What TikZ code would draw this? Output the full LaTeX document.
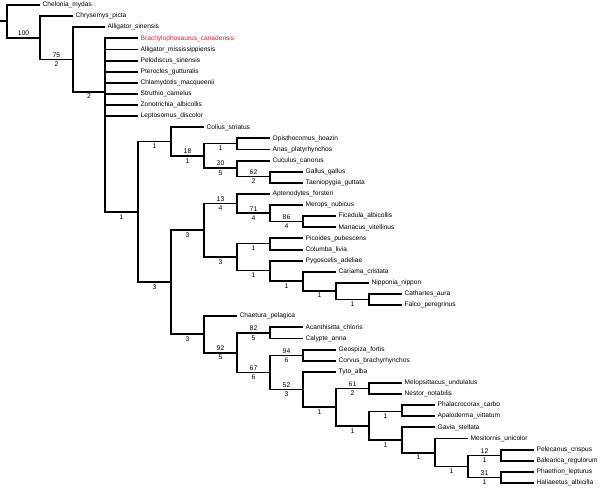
\documentclass[tikz,border=0pt]{standalone}
\usepackage{fontspec}
\setmainfont{Liberation Sans}
\begin{document}
\begin{tikzpicture}[x=1pt,y=-1pt,
  br/.style={line width=1.9pt,black},
  lab/.style={font=\fontsize{6.8}{8}\selectfont,inner sep=0.5pt},
  leaf/.style={font=\fontsize{6.6}{8}\selectfont,anchor=west,inner sep=2.5pt}]
\useasboundingbox (0,0) rectangle (600,489);
\newcommand\br[4]{\draw[br] (#1) |- (#2) node[pos=.75,above=0.5pt,lab]{#3} node[pos=.75,below=1pt,lab]{#4};}
\newcommand\lf[5][black]{\node[leaf,text=#1] (#2) at (#3,{5+11.116*#4}) {#5};}
\newcommand\lb[2]{\draw[br] (#1) |- (#2.west);}
\definecolor{myred}{RGB}{225,30,40}
% internal nodes
\coordinate (stub) at (0,21.4);
\coordinate (root) at (7,21.4);
\coordinate (A) at (40,37.75);
\coordinate (B) at (73,59.5);
\coordinate (C) at (105,91.6);
\coordinate (D) at (138,212);
\coordinate (E) at (171,141.5);
\coordinate (F) at (204,156);
\coordinate (G) at (237,143.5);
\coordinate (H) at (237,168);
\coordinate (I) at (270,176.5);
\coordinate (J) at (171,282);
\coordinate (K) at (204,230);
\coordinate (K1) at (237,203.5);
\coordinate (K2) at (270,213);
\coordinate (K3) at (303,221.5);
\coordinate (K4) at (237,257);
\coordinate (K5) at (270,243.5);
\coordinate (M) at (270,270.5);
\coordinate (N) at (303,281);
\coordinate (O) at (336,290.75);
\coordinate (P) at (369,299.5);
\coordinate (L) at (204,334.4);
\coordinate (Q) at (237,352.75);
\coordinate (R) at (270,333);
\coordinate (S) at (270,372.5);
\coordinate (T) at (303,355.5);
\coordinate (U) at (303,389.5);
\coordinate (V) at (336,407);
\coordinate (W) at (369,388.5);
\coordinate (X) at (369,426);
\coordinate (Y) at (402,411.5);
\coordinate (Z) at (402,440.4);
\coordinate (AA) at (435,452.75);
\coordinate (BB) at (468,466.5);
\coordinate (CC) at (501,455.5);
\coordinate (DD) at (501,477.5);
% leaves
\lf{l0}{40}{0}{Chelonia\_mydas}
\lf{l1}{73}{1}{Chrysemys\_picta}
\lf{l2}{105}{2}{Alligator\_sinensis}
\lf[myred]{l3}{138}{3}{Brachylophosaurus\_canadensis}
\lf{l4}{138}{4}{Alligator\_mississippiensis}
\lf{l5}{138}{5}{Pelodiscus\_sinensis}
\lf{l6}{138}{6}{Pterocles\_gutturalis}
\lf{l7}{138}{7}{Chlamydotis\_macqueenii}
\lf{l8}{138}{8}{Struthio\_camelus}
\lf{l9}{138}{9}{Zonotrichia\_albicollis}
\lf{l10}{138}{10}{Leptosomus\_discolor}
\lf{l11}{204}{11}{Colius\_striatus}
\lf{l12}{270}{12}{Opisthocomus\_hoazin}
\lf{l13}{270}{13}{Anas\_platyrhynchos}
\lf{l14}{270}{14}{Cuculus\_canorus}
\lf{l15}{303}{15}{Gallus\_gallus}
\lf{l16}{303}{16}{Taeniopygia\_guttata}
\lf{l17}{270}{17}{Aptenodytes\_forsteri}
\lf{l18}{303}{18}{Merops\_nubicus}
\lf{l19}{336}{19}{Ficedula\_albicollis}
\lf{l20}{336}{20}{Manacus\_vitellinus}
\lf{l21}{303}{21}{Picoides\_pubescens}
\lf{l22}{303}{22}{Columba\_livia}
\lf{l23}{303}{23}{Pygoscelis\_adeliae}
\lf{l24}{336}{24}{Cariama\_cristata}
\lf{l25}{369}{25}{Nipponia\_nippon}
\lf{l26}{402}{26}{Cathartes\_aura}
\lf{l27}{402}{27}{Falco\_peregrinus}
\lf{l28}{237}{28}{Chaetura\_pelagica}
\lf{l29}{303}{29}{Acanthisitta\_chloris}
\lf{l30}{303}{30}{Calypte\_anna}
\lf{l31}{336}{31}{Geospiza\_fortis}
\lf{l32}{336}{32}{Corvus\_brachyrhynchos}
\lf{l33}{336}{33}{Tyto\_alba}
\lf{l34}{402}{34}{Melopsittacus\_undulatus}
\lf{l35}{402}{35}{Nestor\_notabilis}
\lf{l36}{435}{36}{Phalacrocorax\_carbo}
\lf{l37}{435}{37}{Apaloderma\_vittatum}
\lf{l38}{435}{38}{Gavia\_stellata}
\lf{l39}{468}{39}{Mesitornis\_unicolor}
\lf{l40}{534}{40}{Pelecanus\_crispus}
\lf{l41}{534}{41}{Balearica\_regulorum}
\lf{l42}{534}{42}{Phaethon\_lepturus}
\lf{l43}{534}{43}{Haliaeetus\_albicilla}
% internal branches
\draw[br] (stub) -- (root);
\br{root}{A}{100}{}
\br{A}{B}{75}{2}
\br{B}{C}{}{2}
\br{C}{D}{}{1}
\br{D}{E}{}{1}
\br{E}{F}{18}{1}
\br{F}{G}{}{1}
\br{F}{H}{30}{5}
\br{H}{I}{62}{2}
\br{D}{J}{}{3}
\br{J}{K}{}{3}
\br{K}{K1}{13}{4}
\br{K1}{K2}{71}{4}
\br{K2}{K3}{86}{4}
\br{K}{K4}{}{3}
\br{K4}{K5}{}{1}
\br{K4}{M}{}{1}
\br{M}{N}{}{1}
\br{N}{O}{}{1}
\br{O}{P}{}{1}
\br{J}{L}{}{3}
\br{L}{Q}{92}{5}
\br{Q}{R}{82}{5}
\br{Q}{S}{67}{6}
\br{S}{T}{94}{6}
\br{S}{U}{52}{3}
\br{U}{V}{}{1}
\br{V}{W}{61}{2}
\br{V}{X}{}{1}
\br{X}{Y}{}{1}
\br{X}{Z}{}{1}
\br{Z}{AA}{}{1}
\br{AA}{BB}{}{1}
\br{BB}{CC}{12}{1}
\br{BB}{DD}{31}{1}
% leaf branches
\lb{root}{l0}\lb{A}{l1}\lb{B}{l2}
\foreach \i in {3,...,10}{\lb{C}{l\i}}
\lb{E}{l11}\lb{G}{l12}\lb{G}{l13}\lb{H}{l14}\lb{I}{l15}\lb{I}{l16}
\lb{K1}{l17}\lb{K2}{l18}\lb{K3}{l19}\lb{K3}{l20}\lb{K5}{l21}\lb{K5}{l22}
\lb{M}{l23}\lb{N}{l24}\lb{O}{l25}\lb{P}{l26}\lb{P}{l27}
\lb{L}{l28}\lb{R}{l29}\lb{R}{l30}\lb{T}{l31}\lb{T}{l32}\lb{U}{l33}
\lb{W}{l34}\lb{W}{l35}\lb{Y}{l36}\lb{Y}{l37}\lb{Z}{l38}\lb{AA}{l39}
\lb{CC}{l40}\lb{CC}{l41}\lb{DD}{l42}\lb{DD}{l43}
\end{tikzpicture}
\end{document}
